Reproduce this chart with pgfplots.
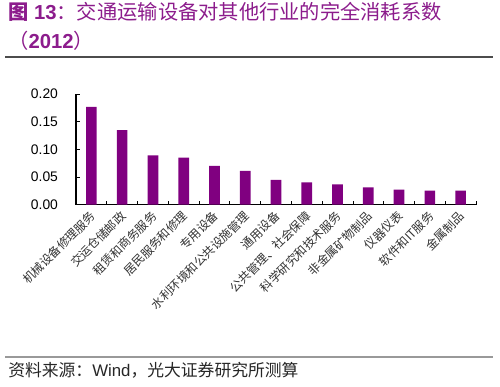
\documentclass[border=0pt]{standalone}
\usepackage{fontspec}
\setmainfont{Liberation Sans}
\newfontfamily\cjk{Noto Sans CJK SC}
\usepackage{pgfplots}
\pgfplotsset{compat=1.18}
\definecolor{barc}{RGB}{128,0,128}
\definecolor{titc}{RGB}{140,28,140}
\definecolor{lab}{RGB}{50,50,50}
\begin{document}
\begin{tikzpicture}
\useasboundingbox (0pt,0pt) rectangle (375pt,-289.5pt);
\node[anchor=base west, inner sep=0pt, text=titc, font=\fontsize{15.2pt}{16pt}\selectfont] at (6pt,-14.6pt) {{\cjk\bfseries 图} \textbf{13}{\cjk ：交通运输设备对其他行业的完全消耗系数}};
\node[anchor=base west, inner sep=0pt, text=titc, font=\fontsize{15.2pt}{16pt}\selectfont] at (6pt,-36pt) {{\cjk （}\textbf{2012}{\cjk ）}};
\draw[line width=0.8pt, color=black!70] (3.75pt,-42.75pt) -- (369.75pt,-42.75pt);
\begin{axis}[
  at={(57pt,-153.5pt)}, anchor=south west,
  scale only axis, width=300pt, height=83pt,
  xmin=-0.5, xmax=12.5, ymin=0, ymax=0.2,
  axis x line*=bottom, axis y line*=left, axis line style={-, line width=0.8pt},
  tick align=inside,
  ytick={0,0.05,0.1,0.15,0.2},
  yticklabel style={/pgf/number format/fixed, /pgf/number format/fixed zerofill, /pgf/number format/precision=2, font=\fontsize{10.4pt}{12pt}\selectfont, xshift=-10pt},
  /pgf/number format/assume math mode=true,
  major tick length=3pt,
  xtick={-0.5,0.5,...,12.5}, xticklabels={},
  extra x ticks={0,1,2,3,4,5,6,7,8,9,10,11,12},
  extra x tick labels={机械设备修理服务,交运仓储邮政,租赁和商务服务,居民服务和修理,专用设备,水利环境和公共设施管理,通用设备,公共管理、社会保障,科学研究和技术服务,非金属矿物制品,仪器仪表,软件和IT服务,金属制品},
  extra x tick style={major tick length=0pt, tick label style={yshift=-6pt, xshift=2pt, rotate=45, anchor=east, font=\cjk\fontsize{9pt}{10pt}\selectfont, text=lab, inner sep=1pt}},
  tick style={black, line width=0.6pt},
]
\addplot[ybar, bar width=8pt, fill=barc, draw=none] coordinates {
(0,0.1768) (1,0.1346) (2,0.0893) (3,0.0851) (4,0.0700) (5,0.0613) (6,0.0446) (7,0.0404) (8,0.0368) (9,0.0313) (10,0.0272) (11,0.0254) (12,0.0254)};
\end{axis}
\draw[line width=0.8pt, color=black!40] (3.75pt,-267.75pt) -- (369.75pt,-267.75pt);
\node[anchor=base west, inner sep=0pt, font=\fontsize{12.6pt}{14pt}\selectfont, text=black!85] at (6pt,-282pt) {{\cjk 资料来源：}Wind{\cjk ，光大证券研究所测算}};
\end{tikzpicture}
\end{document}
